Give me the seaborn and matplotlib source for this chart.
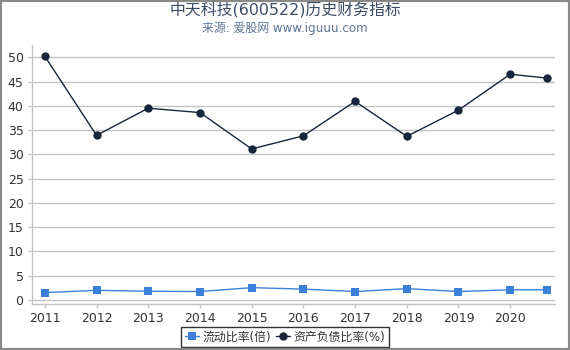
import matplotlib
matplotlib.use("Agg")
import matplotlib.pyplot as plt
import seaborn as sns
import pandas as pd
from matplotlib.patches import Rectangle

years = [2011, 2012, 2013, 2014, 2015, 2016, 2017, 2018, 2019, 2020, 2020.72]
tick_years = [2011, 2012, 2013, 2014, 2015, 2016, 2017, 2018, 2019, 2020]
current_ratio = [1.48, 1.95, 1.75, 1.7, 2.5, 2.2, 1.7, 2.3, 1.7, 2.06, 2.06]
debt_ratio = [50.2, 33.9, 39.5, 38.6, 31.1, 33.8, 40.9, 33.7, 39.1, 46.5, 45.7]
s1 = "流动比率(倍)"
s2 = "资产负债比率(%)"

sns.set_style("white")
plt.rcParams['font.family'] = ['DejaVu Sans', 'Noto Sans CJK SC']

df = pd.DataFrame({"x": years, s1: current_ratio, s2: debt_ratio})

fig = plt.figure(figsize=(5.7, 3.5), dpi=100)
ax = fig.add_axes([0.056, 0.131, 0.918, 0.74])

sns.lineplot(data=df, x="x", y=s1, ax=ax, color="#3a80d8", marker="s",
             markersize=6, markeredgewidth=0, linewidth=1.0, label=s1, legend=False)
sns.lineplot(data=df, x="x", y=s2, ax=ax, color="#17263b", marker="o",
             markersize=6, markeredgewidth=0, linewidth=1.0, label=s2, legend=False)

ax.set_xlim(2010.75, 2020.87)
ax.set_ylim(-0.9, 52.5)
ax.set_yticks(range(0, 51, 5))
ax.set_xticks(tick_years)
ax.set_xticklabels([str(y) for y in tick_years])
ax.set_xlabel("")
ax.set_ylabel("")
ax.yaxis.grid(True, color="#c4c4c4", linewidth=1)
ax.xaxis.grid(False)
for side in ["top", "right"]:
    ax.spines[side].set_visible(False)
for side in ["left", "bottom"]:
    ax.spines[side].set_color("#c4c4c4")
    ax.spines[side].set_linewidth(1)
ax.tick_params(axis="both", colors="#c4c4c4", labelcolor="#333333",
               labelsize=9, length=3, width=1, direction="out", left=True, bottom=True)
ax.tick_params(axis="y", pad=3)
ax.tick_params(axis="x", pad=2.5)

handles, labels = ax.get_legend_handles_labels()
leg = fig.legend(handles, labels, loc="upper center", bbox_to_anchor=(0.5, 0.066),
                 ncol=2, frameon=True, fancybox=False, fontsize=8.6, handlelength=1.2,
                 handletextpad=0.3, columnspacing=0.4, borderpad=0.3,
                 borderaxespad=0)
leg.get_frame().set_edgecolor("black")
leg.get_frame().set_linewidth(1)
for t in leg.get_texts():
    t.set_color("#333333")

fig.text(0.5, 0.969, "中天科技(600522)历史财务指标", ha="center", va="center",
         fontsize=11.4, color="#3b4d66")
fig.text(0.5, 0.92, "来源: 爱股网 www.iguuu.com", ha="center", va="center",
         fontsize=8.6, color="#5c7596")

fig.patches.append(Rectangle((0, 0), 1, 1, transform=fig.transFigure, fill=False,
                             edgecolor="#888888", linewidth=3, zorder=10))

fig.savefig("out.png", dpi=100)
